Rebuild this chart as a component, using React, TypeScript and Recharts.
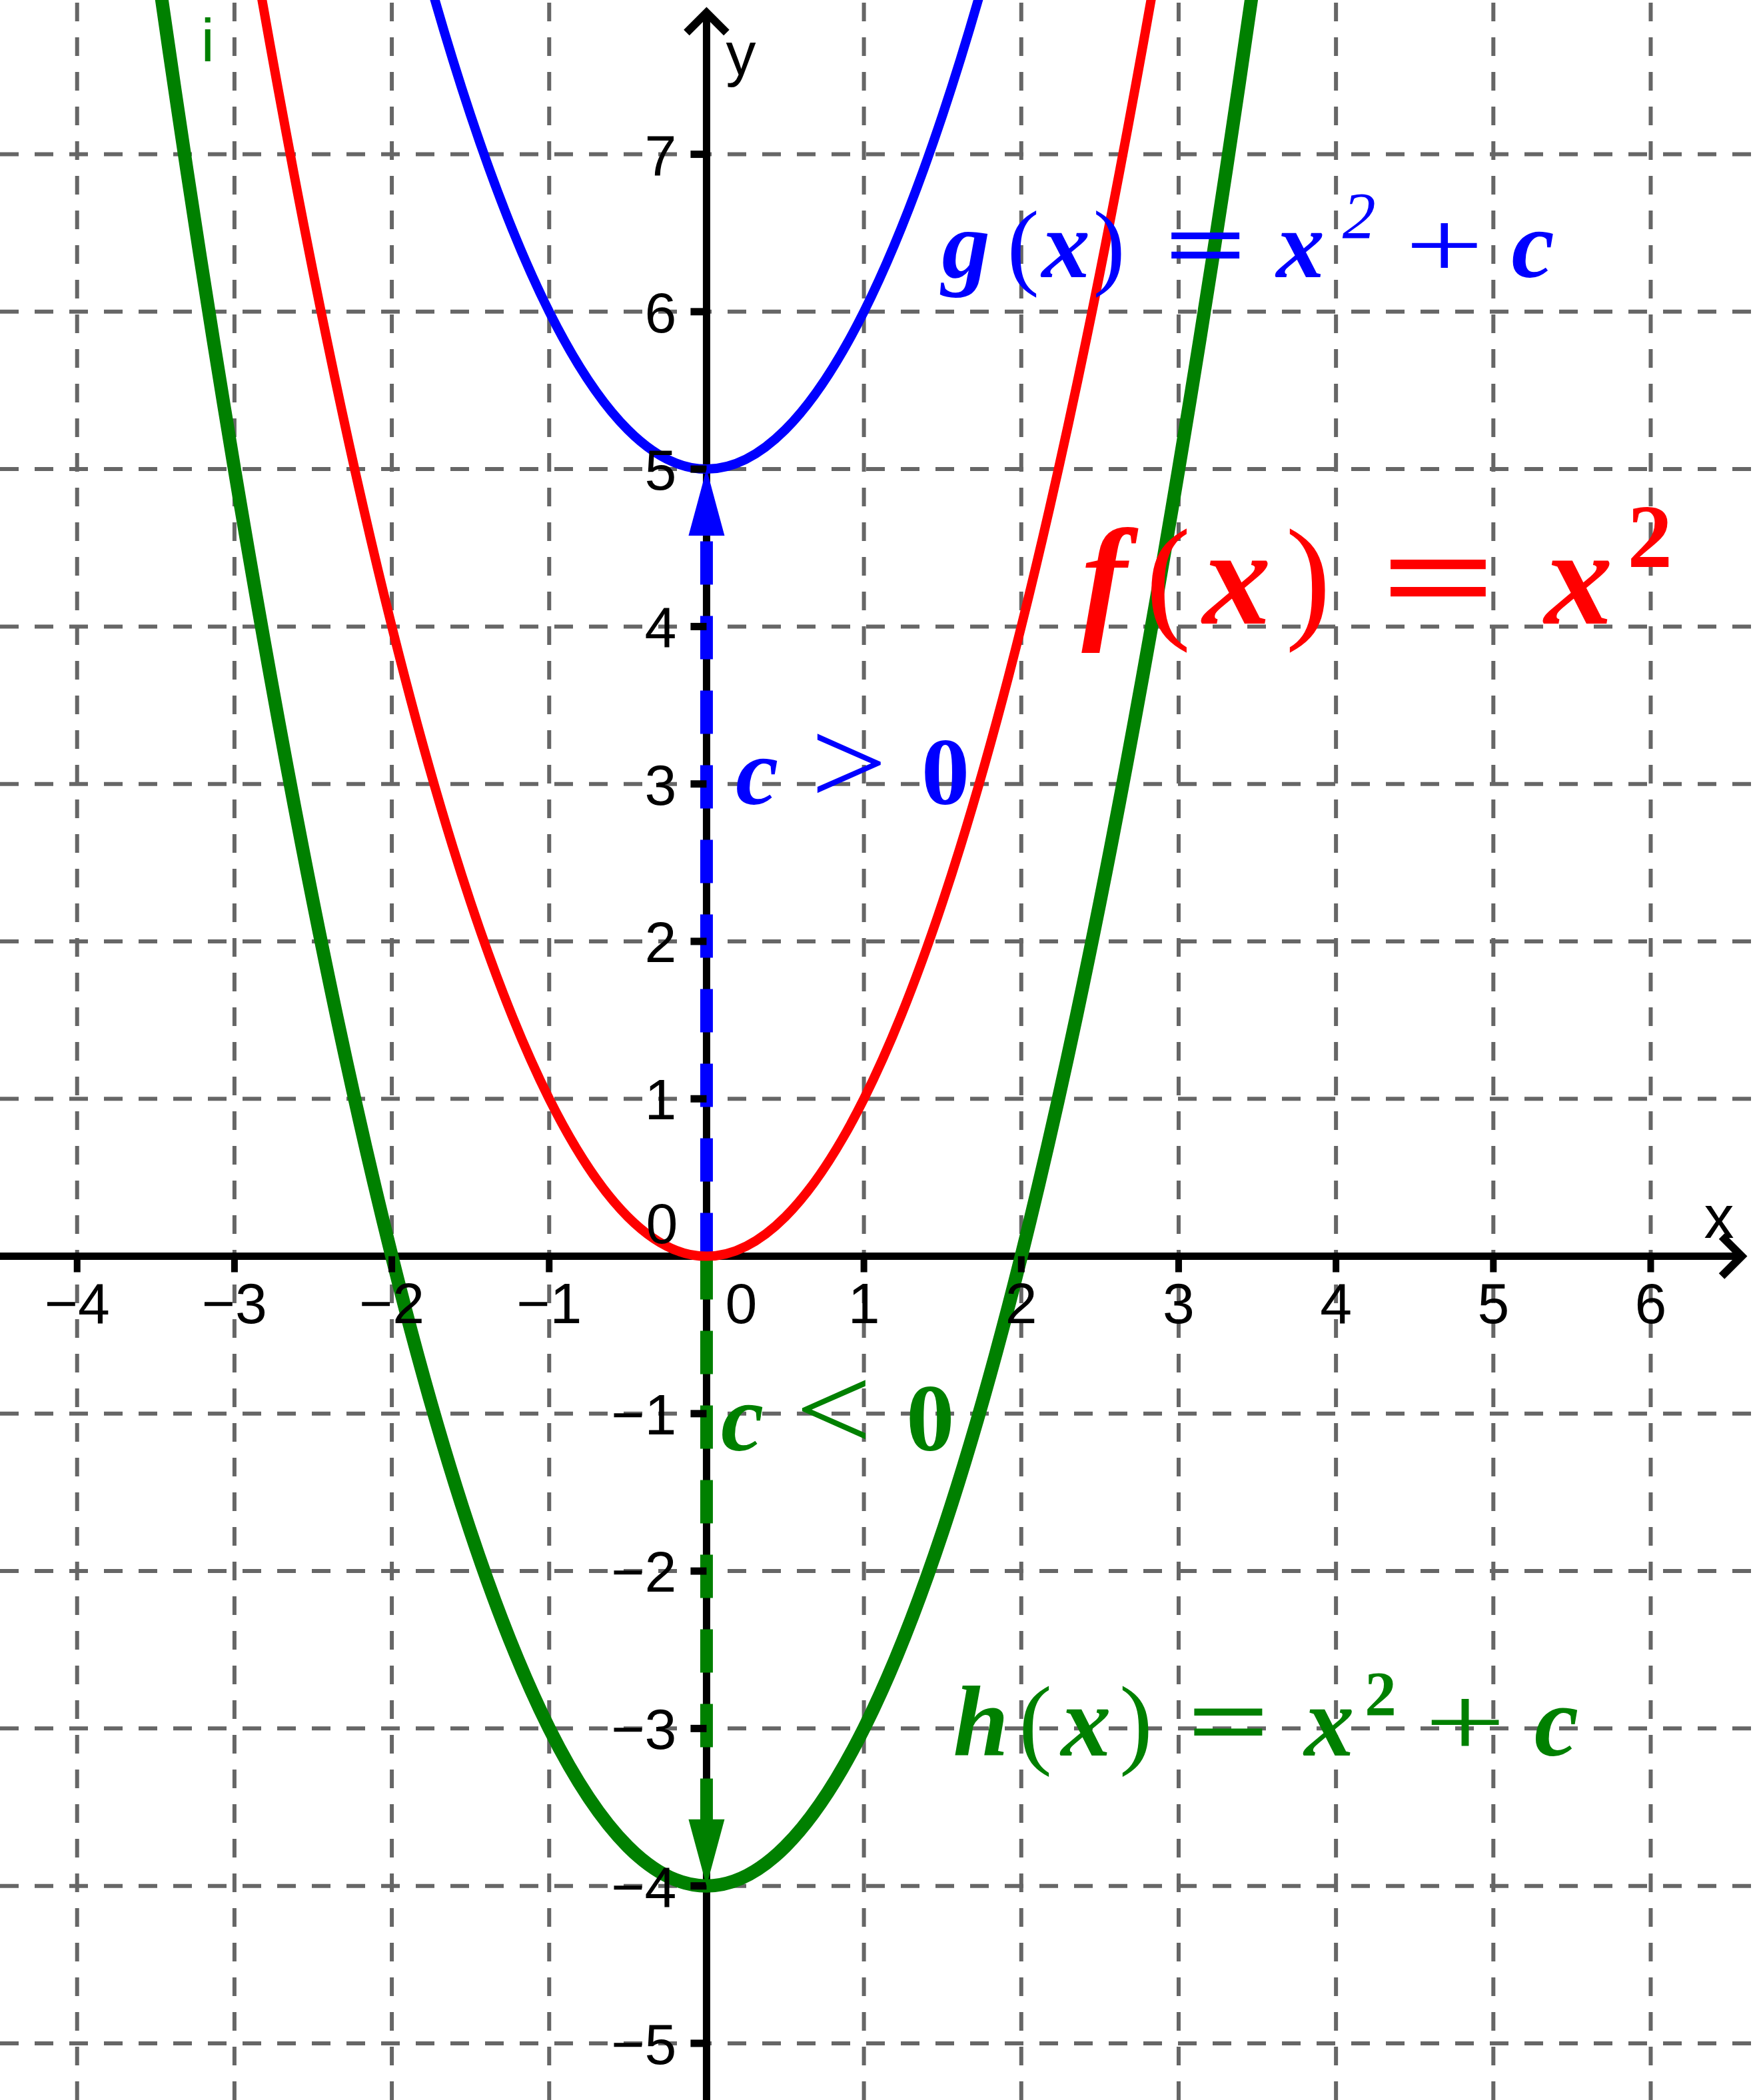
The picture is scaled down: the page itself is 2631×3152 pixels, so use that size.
import React from "react";
import { LineChart, Line, XAxis, YAxis, ReferenceLine, ReferenceDot } from "recharts";

const W = 2631;
const H = 3152;
const X_DOMAIN: [number, number] = [-4.49, 6.65];
const Y_DOMAIN: [number, number] = [-5.36, 7.98];

const xValues = [-4, -3.5, -3, -2.5, -2, -1.5, -1, -0.5, 0, 0.5, 1, 1.5, 2, 2.5, 3, 3.5, 4];
const fValues = [16, 12.25, 9, 6.25, 4, 2.25, 1, 0.25, 0, 0.25, 1, 2.25, 4, 6.25, 9, 12.25, 16];
const gValues = [21, 17.25, 14, 11.25, 9, 7.25, 6, 5.25, 5, 5.25, 6, 7.25, 9, 11.25, 14, 17.25, 21];
const hValues = [12, 8.25, 5, 2.25, 0, -1.75, -3, -3.75, -4, -3.75, -3, -1.75, 0, 2.25, 5, 8.25, 12];

const gridX = [-4, -3, -2, -1, 1, 2, 3, 4, 5, 6];
const gridY = [-5, -4, -3, -2, -1, 1, 2, 3, 4, 5, 6, 7];
const xTickLabels = ["−4", "−3", "−2", "−1", "1", "2", "3", "4", "5", "6"];
const yTickLabels = ["−5", "−4", "−3", "−2", "−1", "1", "2", "3", "4", "5", "6", "7"];

// vertical shift arrows: c = 5 (up), c = -4 (down)
const shiftValues = [5, -4];
const shiftColors = ["#0000ff", "#008000"];
const ARROW_LEN = 0.42;

const RED = "#ff0000";
const BLUE = "#0000ff";
const GREEN = "#008000";
const GRID = "#666666";
const SANS = "'Liberation Sans', Arial, sans-serif";
const SERIF = "'Liberation Serif', 'Times New Roman', serif";
const TICK_FONT = 86;

const data = xValues.map((x, i) => ({ x, f: fValues[i], g: gValues[i], h: hValues[i] }));

type Glyph = { t: string; dx: number; s: "bi" | "b" | "r" | "i"; size?: number; rise?: number; w?: number };
type MathLabel = { x: number; y: number; color: string; size: number; glyphs: Glyph[] };

const mathLabels: MathLabel[] = [
  {
    x: 2.29, y: 4.02, color: RED, size: 205,
    glyphs: [
      { t: "f", dx: 56, s: "bi" },
      { t: "(", dx: 152, s: "r" },
      { t: "x", dx: 255, s: "bi" },
      { t: ")", dx: 362, s: "r" },
      { t: "=", dx: 558, s: "b", w: 175 },
      { t: "x", dx: 768, s: "bi" },
      { t: "2", dx: 875, s: "b", size: 135, rise: 85 },
    ],
  },
  {
    x: 1.5, y: 6.22, color: BLUE, size: 145,
    glyphs: [
      { t: "g", dx: 35, s: "bi" },
      { t: "(", dx: 121, s: "r" },
      { t: "x", dx: 185, s: "bi" },
      { t: ")", dx: 250, s: "r" },
      { t: "=", dx: 395, s: "b", w: 125 },
      { t: "x", dx: 537, s: "bi" },
      { t: "2", dx: 625, s: "i", size: 100, rise: 59 },
      { t: "+", dx: 753, s: "r", w: 118 },
      { t: "c", dx: 886, s: "bi" },
    ],
  },
  {
    x: 0.185, y: 2.87, color: BLUE, size: 145,
    glyphs: [
      { t: "c", dx: 32, s: "bi" },
      { t: ">", dx: 170, s: "r", size: 185, w: 115 },
      { t: "0", dx: 315, s: "b" },
    ],
  },
  {
    x: 0.088, y: -1.234, color: GREEN, size: 145,
    glyphs: [
      { t: "c", dx: 33, s: "bi" },
      { t: "<", dx: 170, s: "r", size: 185, w: 115 },
      { t: "0", dx: 315, s: "b" },
    ],
  },
  {
    x: 1.561, y: -3.173, color: GREEN, size: 150,
    glyphs: [
      { t: "h", dx: 43, s: "bi" },
      { t: "(", dx: 125, s: "r" },
      { t: "x", dx: 201, s: "bi" },
      { t: ")", dx: 276, s: "r" },
      { t: "=", dx: 415, s: "b", w: 125 },
      { t: "x", dx: 566, s: "bi" },
      { t: "2", dx: 643, s: "b", size: 95, rise: 60 },
      { t: "+", dx: 770, s: "r", w: 122 },
      { t: "c", dx: 907, s: "bi" },
    ],
  },
];

const mathShape = (lbl: MathLabel) => (props: any) => {
  const { cx, cy } = props;
  return (
    <g>
      {lbl.glyphs.map((gl, i) => (
        <text
          key={i}
          x={cx + gl.dx}
          y={cy - (gl.rise || 0)}
          textAnchor="middle"
          fill={lbl.color}
          fontFamily={SERIF}
          fontSize={gl.size || lbl.size}
          fontWeight={gl.s === "bi" || gl.s === "b" ? 700 : 400}
          fontStyle={gl.s === "bi" || gl.s === "i" ? "italic" : "normal"}
          {...(gl.w ? { textLength: gl.w, lengthAdjust: "spacingAndGlyphs" } : {})}
        >
          {gl.t}
        </text>
      ))}
    </g>
  );
};

const xTickShape = (label: string) => (props: any) => {
  const { cx, cy } = props;
  return (
    <g>
      <rect x={cx - 5} y={cy} width={10} height={24} fill="#000" />
      <text x={cx} y={cy + 100} textAnchor="middle" fontFamily={SANS} fontSize={TICK_FONT} fill="#000">
        {label}
      </text>
    </g>
  );
};

const yTickShape = (label: string) => (props: any) => {
  const { cx, cy } = props;
  return (
    <g>
      <rect x={cx - 24} y={cy - 5.5} width={24} height={11} fill="#000" />
      <text x={cx - 45} y={cy + 31} textAnchor="end" fontFamily={SANS} fontSize={TICK_FONT} fill="#000">
        {label}
      </text>
    </g>
  );
};

const originShape = (props: any) => {
  const { cx, cy } = props;
  return (
    <g fontFamily={SANS} fontSize={TICK_FONT} fill="#000">
      <text x={cx - 43} y={cy - 20} textAnchor="end">0</text>
      <text x={cx + 52} y={cy + 100} textAnchor="middle">0</text>
      <text x={cx + 1497} y={cy - 28} fontSize={90}>x</text>
      <text x={cx + 29} y={cy - 1774} fontSize={90}>y</text>
    </g>
  );
};

const chevronRight = (props: any) => {
  const { cx, cy } = props;
  return (
    <polyline
      points={`${cx - 30},${cy - 30} ${cx},${cy} ${cx - 30},${cy + 30}`}
      fill="none"
      stroke="#000"
      strokeWidth={12}
    />
  );
};

const chevronUp = (props: any) => {
  const { cx, cy } = props;
  return (
    <polyline
      points={`${cx - 30},${cy + 30} ${cx},${cy} ${cx + 30},${cy + 30}`}
      fill="none"
      stroke="#000"
      strokeWidth={12}
    />
  );
};

const arrowHead = (color: string, up: boolean) => (props: any) => {
  const { cx, cy } = props;
  const b = up ? cy + 100 : cy - 100;
  return <polygon points={`${cx},${cy} ${cx - 27},${b} ${cx + 27},${b}`} fill={color} />;
};

const iLabel = (props: any) => {
  const { cx, cy } = props;
  return (
    <text x={cx} y={cy} textAnchor="middle" fontFamily={SANS} fontSize={90} fill={GREEN}>
      i
    </text>
  );
};

export default function App() {
  return (
    <div style={{ position: "absolute", left: 0, top: 0, width: W, height: H, background: "#fff" }}>
      <LineChart width={W} height={H} data={data} margin={{ top: 0, right: 0, bottom: 0, left: 0 }}>
        <XAxis dataKey="x" type="number" domain={X_DOMAIN} allowDataOverflow hide />
        <YAxis type="number" domain={Y_DOMAIN} allowDataOverflow hide />

        {gridX.map((v) => (
          <ReferenceLine key={`gx${v}`} x={v} stroke={GRID} strokeWidth={6} strokeDasharray="28 24" />
        ))}
        {gridY.map((v) => (
          <ReferenceLine key={`gy${v}`} y={v} stroke={GRID} strokeWidth={6} strokeDasharray="28 24" />
        ))}

        <ReferenceLine
          segment={[{ x: X_DOMAIN[0], y: 0 }, { x: 6.578, y: 0 }]}
          stroke="#000"
          strokeWidth={11}
          ifOverflow="visible"
        />
        <ReferenceLine
          segment={[{ x: 0, y: Y_DOMAIN[0] }, { x: 0, y: 7.9 }]}
          stroke="#000"
          strokeWidth={11}
          ifOverflow="visible"
        />
        <ReferenceDot x={6.578} y={0} shape={chevronRight} ifOverflow="visible" />
        <ReferenceDot x={0} y={7.9} shape={chevronUp} ifOverflow="visible" />

        {gridX.map((v, i) => (
          <ReferenceDot key={`tx${v}`} x={v} y={0} shape={xTickShape(xTickLabels[i])} />
        ))}
        {gridY.map((v, i) => (
          <ReferenceDot key={`ty${v}`} x={0} y={v} shape={yTickShape(yTickLabels[i])} />
        ))}
        <ReferenceDot x={0} y={0} shape={originShape} />

        {shiftValues.map((c, i) => (
          <ReferenceLine
            key={`sl${c}`}
            segment={[{ x: 0, y: 0 }, { x: 0, y: c - Math.sign(c) * ARROW_LEN }]}
            stroke={shiftColors[i]}
            strokeWidth={19}
            strokeDasharray="65 47"
            ifOverflow="visible"
          />
        ))}

        <Line type="natural" dataKey="f" stroke={RED} strokeWidth={14} dot={false} isAnimationActive={false} />
        <Line type="natural" dataKey="g" stroke={BLUE} strokeWidth={14} dot={false} isAnimationActive={false} />
        <Line type="natural" dataKey="h" stroke={GREEN} strokeWidth={20} dot={false} isAnimationActive={false} />

        {shiftValues.map((c, i) => (
          <ReferenceDot key={`ah${c}`} x={0} y={c} shape={arrowHead(shiftColors[i], c > 0)} />
        ))}

        {mathLabels.map((lbl, i) => (
          <ReferenceDot key={`m${i}`} x={lbl.x} y={lbl.y} shape={mathShape(lbl)} />
        ))}
        <ReferenceDot x={-3.17} y={7.59} shape={iLabel} />
      </LineChart>
    </div>
  );
}
